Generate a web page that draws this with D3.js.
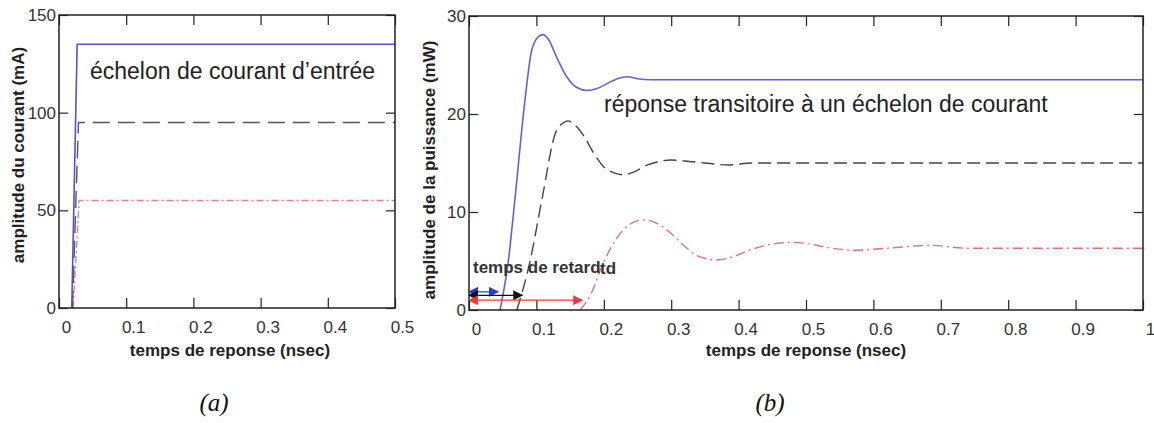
<!DOCTYPE html>
<html>
<head>
<meta charset="utf-8">
<script src="https://cdn.jsdelivr.net/npm/d3@7"></script>
<style>
  body { margin: 0; background: #fff; }
  svg { display: block; font-family: "Liberation Sans", Arial, sans-serif; }
</style>
</head>
<body>
<svg id="chart"></svg>
<script>
// ---- panel (a): current step (mA) vs time (nsec)
const tA_blue = [0.019, 0.027, 0.5];
const iA_blue = [0, 135, 135];
const tA_gray = [0.02, 0.029, 0.5];
const iA_gray = [0, 95, 95];
const tA_red = [0.021, 0.03, 0.5];
const iA_red = [0, 55, 55];
const xTicksA = [0, 0.1, 0.2, 0.3, 0.4, 0.5];
const yTicksA = [0, 50, 100, 150];

// ---- panel (b): optical power (mW) vs time (nsec)
const tB_blue = [0.046, 0.058, 0.068, 0.083, 0.093, 0.103, 0.11, 0.118, 0.13, 0.145, 0.16, 0.175, 0.19, 0.205, 0.22, 0.235, 0.25, 0.27, 1.0];
const pB_blue = [0, 4.8, 11.2, 21.4, 26.5, 27.9, 28.1, 27.6, 25.8, 23.8, 22.7, 22.4, 22.6, 23.1, 23.6, 23.8, 23.6, 23.5, 23.5];
const tB_gray = [0.071, 0.09, 0.108, 0.128, 0.14, 0.147, 0.155, 0.17, 0.185, 0.2, 0.215, 0.229, 0.245, 0.265, 0.285, 0.3, 0.32, 0.35, 0.385, 0.42, 1.0];
const pB_gray = [0, 4.8, 11.2, 18, 19.1, 19.3, 19.0, 17.8, 16.0, 14.6, 14.0, 13.8, 14.1, 14.8, 15.2, 15.3, 15.2, 15.0, 14.8, 15.0, 15.0];
const tB_red = [0.165, 0.18, 0.2, 0.22, 0.24, 0.26, 0.28, 0.3, 0.32, 0.34, 0.368, 0.39, 0.42, 0.457, 0.48, 0.5, 0.53, 0.57, 0.62, 0.684, 0.74, 1.0];
const pB_red = [0, 1.5, 4.9, 7.4, 8.8, 9.2, 8.8, 7.8, 6.5, 5.5, 5.1, 5.4, 6.2, 6.8, 6.9, 6.8, 6.4, 6.1, 6.3, 6.6, 6.3, 6.3];
const xTicksB = [0, 0.1, 0.2, 0.3, 0.4, 0.5, 0.6, 0.7, 0.8, 0.9, 1];
const yTicksB = [0, 10, 20, 30];

// delay arrows (end time, height in mW)
const delayEnd = [0.043, 0.079, 0.168];
const delayLevel = [1.85, 1.5, 1.0];
const delayColors = ["#1f3fd6", "#111111", "#f03a3a"];

const svg = d3.select("#chart")
    .attr("width", 1154)
    .attr("height", 423);

svg.append("rect").attr("width", 1154).attr("height", 423).attr("fill", "#fff");

function zip(ts, vs) {
    return ts.map((t, i) => ({ t: t, v: vs[i] }));
}

function drawPanel(cfg) {
    const x = d3.scaleLinear().domain(cfg.xDomain).range([cfg.left, cfg.right]);
    const y = d3.scaleLinear().domain(cfg.yDomain).range([cfg.bottom, cfg.top]);
    const g = svg.append("g");

    // curves
    const line = d3.line()
        .x(d => x(d.t))
        .y(d => y(d.v))
        .curve(cfg.curve);

    cfg.series.forEach(s => {
        g.append("path")
            .datum(zip(s.t, s.v))
            .attr("d", line)
            .attr("fill", "none")
            .attr("stroke", s.color)
            .attr("stroke-width", s.width)
            .attr("stroke-dasharray", s.dash || null);
    });

    // bottom axis with labels, ticks pointing inward
    const xAxis = g.append("g")
        .attr("transform", `translate(0, ${cfg.bottom})`)
        .call(d3.axisBottom(x).tickValues(cfg.xTicks).tickSize(-10).tickPadding(13)
            .tickFormat(d => d3.format("~g")(d)));
    xAxis.selectAll("text").attr("dx", 7);

    g.append("g")
        .attr("transform", `translate(0, ${cfg.top})`)
        .call(d3.axisTop(x).tickValues(cfg.xTicks).tickSize(-10).tickFormat(""));

    g.append("g")
        .attr("transform", `translate(${cfg.left}, 0)`)
        .call(d3.axisLeft(y).tickValues(cfg.yTicks).tickSize(-9).tickPadding(3));

    g.append("g")
        .attr("transform", `translate(${cfg.right}, 0)`)
        .call(d3.axisRight(y).tickValues(cfg.yTicks).tickSize(-9).tickFormat(""));

    g.selectAll(".domain").remove();
    g.selectAll(".tick line").attr("stroke", "#222").attr("stroke-width", 1.2);
    g.selectAll(".tick text")
        .attr("fill", "#333")
        .style("font-size", "17px")
        .style("font-family", "Liberation Sans, Arial, sans-serif");

    // frame
    g.append("rect")
        .attr("x", cfg.left)
        .attr("y", cfg.top)
        .attr("width", cfg.right - cfg.left)
        .attr("height", cfg.bottom - cfg.top)
        .attr("fill", "none")
        .attr("stroke", "#222")
        .attr("stroke-width", 1.5);

    // axis titles
    g.append("text")
        .attr("x", (cfg.left + cfg.right) / 2 + cfg.xLabelShift)
        .attr("y", 356)
        .attr("text-anchor", "middle")
        .style("font-size", "17px")
        .style("font-weight", "bold")
        .attr("fill", "#222")
        .text(cfg.xLabel);

    g.append("text")
        .attr("transform", `translate(${cfg.yLabelX}, ${cfg.yLabelY}) rotate(-90)`)
        .attr("text-anchor", "middle")
        .style("font-size", "17px")
        .style("font-weight", "bold")
        .attr("fill", "#222")
        .text(cfg.yLabel);

    // inline annotation
    g.append("text")
        .attr("x", cfg.noteX)
        .attr("y", cfg.noteY)
        .style("font-size", "23px")
        .attr("fill", "#222")
        .text(cfg.note);

    // caption under the panel
    g.append("text")
        .attr("x", cfg.captionX)
        .attr("y", 411)
        .attr("text-anchor", "middle")
        .style("font-family", "Liberation Serif, Times New Roman, serif")
        .style("font-style", "italic")
        .style("font-size", "25px")
        .attr("fill", "#111")
        .text(cfg.caption);

    return { g: g, x: x, y: y };
}

drawPanel({
    left: 59, right: 395, top: 15, bottom: 308,
    xDomain: [0, 0.5], yDomain: [0, 150],
    xTicks: xTicksA, yTicks: yTicksA,
    curve: d3.curveLinear,
    series: [
        { t: tA_red, v: iA_red, color: "#ec7f86", width: 1.4, dash: "7,3,2,3" },
        { t: tA_gray, v: iA_gray, color: "#555", width: 1.4, dash: "17,8" },
        { t: tA_blue, v: iA_blue, color: "#5252d8", width: 1.6 }
    ],
    xLabel: "temps de reponse (nsec)", xLabelShift: 3,
    yLabel: "amplitude du courant (mA)", yLabelX: 24, yLabelY: 155,
    note: "échelon de courant d\u2019entrée", noteX: 90, noteY: 79,
    caption: "(a)", captionX: 214
});

const pb = drawPanel({
    left: 469, right: 1143, top: 16, bottom: 310,
    xDomain: [0, 1], yDomain: [0, 30],
    xTicks: xTicksB, yTicks: yTicksB,
    curve: d3.curveMonotoneX,
    series: [
        { t: tB_red, v: pB_red, color: "#e2707a", width: 1.4, dash: "10,4,2,4" },
        { t: tB_gray, v: pB_gray, color: "#444", width: 1.4, dash: "13,6" },
        { t: tB_blue, v: pB_blue, color: "#6060e0", width: 1.6 }
    ],
    xLabel: "temps de reponse (nsec)", xLabelShift: 0,
    yLabel: "amplitude de la puissance (mW)", yLabelX: 435, yLabelY: 170,
    note: "réponse transitoire à un échelon de courant", noteX: 604, noteY: 112,
    caption: "(b)", captionX: 770
});

// delay arrows in panel (b)
const defs = svg.append("defs");
delayColors.forEach((c, i) => {
    defs.append("marker")
        .attr("id", "head" + i)
        .attr("viewBox", "0 0 10 10")
        .attr("refX", 9).attr("refY", 5)
        .attr("markerWidth", 11).attr("markerHeight", 10)
        .attr("markerUnits", "userSpaceOnUse")
        .attr("orient", "auto-start-reverse")
        .append("path")
        .attr("d", "M0,0 L10,5 L0,10 Z")
        .attr("fill", c);
});

pb.g.selectAll(".delay")
    .data(delayEnd)
    .enter()
    .append("line")
    .attr("class", "delay")
    .attr("x1", pb.x(0))
    .attr("x2", d => pb.x(d))
    .attr("y1", (d, i) => pb.y(delayLevel[i]))
    .attr("y2", (d, i) => pb.y(delayLevel[i]))
    .attr("stroke", (d, i) => delayColors[i])
    .attr("stroke-width", 1.2)
    .attr("marker-start", (d, i) => `url(#head${i})`)
    .attr("marker-end", (d, i) => `url(#head${i})`);

pb.g.append("text")
    .attr("x", 473)
    .attr("y", 273)
    .style("font-size", "17px")
    .style("font-weight", "bold")
    .attr("fill", "#333")
    .text("temps de retard");

pb.g.append("text")
    .attr("x", 600)
    .attr("y", 274)
    .style("font-size", "17px")
    .style("font-weight", "bold")
    .attr("fill", "#333")
    .text("td");
</script>
</body>
</html>
